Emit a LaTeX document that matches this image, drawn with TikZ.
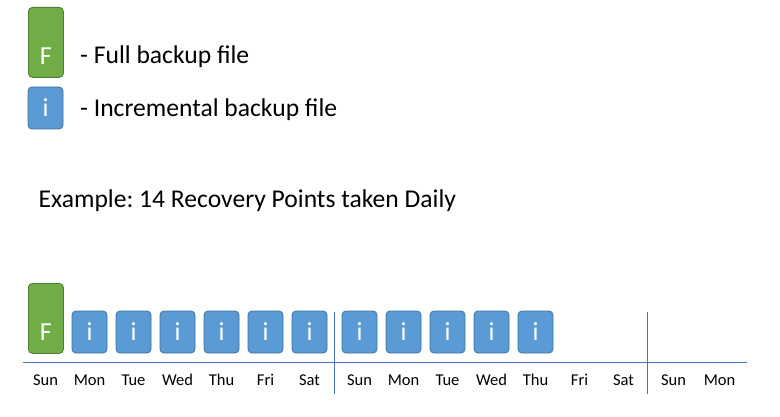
\documentclass[tikz,border=0pt]{standalone}
\usepackage{fontspec}
\setmainfont{Carlito}
\frenchspacing

\definecolor{fullgreen}{HTML}{70AD47}
\definecolor{fullborder}{HTML}{507E32}
\definecolor{incblue}{HTML}{5B9BD5}
\definecolor{incborder}{HTML}{41719C}
\definecolor{axisblue}{HTML}{4472C4}

\tikzset{
  fullbox/.style={draw=fullborder,fill=fullgreen,rounded corners=4pt,line width=0.8pt,
    minimum width=35pt,minimum height=70pt,inner sep=0pt,anchor=north west},
  incbox/.style={draw=incborder,fill=incblue,rounded corners=4pt,line width=0.8pt,
    minimum width=35pt,minimum height=42pt,inner sep=0pt,text=white,
    font=\fontsize{26}{30}\selectfont},
  boxletter/.style={anchor=base,inner sep=0pt,text=white,font=\fontsize{26}{30}\selectfont},
  legtext/.style={anchor=base west,inner sep=0pt,font=\fontsize{25.6}{30}\selectfont},
  daylabel/.style={anchor=base,inner sep=0pt,font=\fontsize{16.5}{20}\selectfont},
  axisline/.style={draw=axisblue,line width=1pt}
}

\begin{document}
\begin{tikzpicture}[x=1pt,y=1pt]
\useasboundingbox (0,0) rectangle (780,416);

% Legend
\node[fullbox] (legfull) at (28,409) {};
\node[boxletter] (legfullF) at ([yshift=13pt]legfull.south) {F};
\node[incbox] (leginc) at (45.5,308) {i};
\node[legtext] (legfulltext) at (80,352) {- Full backup file};
\node[legtext] (leginctext) at (80,299) {- Incremental backup file};

% Example title
\node[legtext] (example) at (38.5,209) {Example: 14 Recovery Points taken Daily};

% Timeline axis and week dividers
\coordinate (axisL) at (23,54);
\coordinate (axisR) at (747,54);
\coordinate (weekAtop) at (334,104);
\coordinate (weekAbot) at (334,22);
\coordinate (weekBtop) at (647,104);
\coordinate (weekBbot) at (647,22);
\draw[axisline] (axisL) -- (axisR);
\draw[axisline] (weekAtop) -- (weekAbot);
\draw[axisline] (weekBtop) -- (weekBbot);

% Backup files
\node[fullbox] (full) at (28,133) {};
\node[boxletter] (fullF) at ([yshift=13pt]full.south) {F};
\foreach \n in {1,...,6}
  \node[incbox] (inc\n) at (45.5+44*\n,84) {i};
\foreach \n in {7,...,11}
  \node[incbox] (inc\n) at (51.5+44*\n,84) {i};

% Days
\foreach \d [count=\n from 0] in {Sun,Mon,Tue,Wed,Thu,Fri,Sat}
  \node[daylabel] (dayA\n) at (45.5+44*\n,31) {\d};
\foreach \d [count=\n from 0] in {Sun,Mon,Tue,Wed,Thu,Fri,Sat}
  \node[daylabel] (dayB\n) at (359.5+44*\n,31) {\d};
\node[daylabel] (dayC0) at (673.5,31) {Sun};
\node[daylabel] (dayC1) at (719.5,31) {Mon};
\end{tikzpicture}
\end{document}
